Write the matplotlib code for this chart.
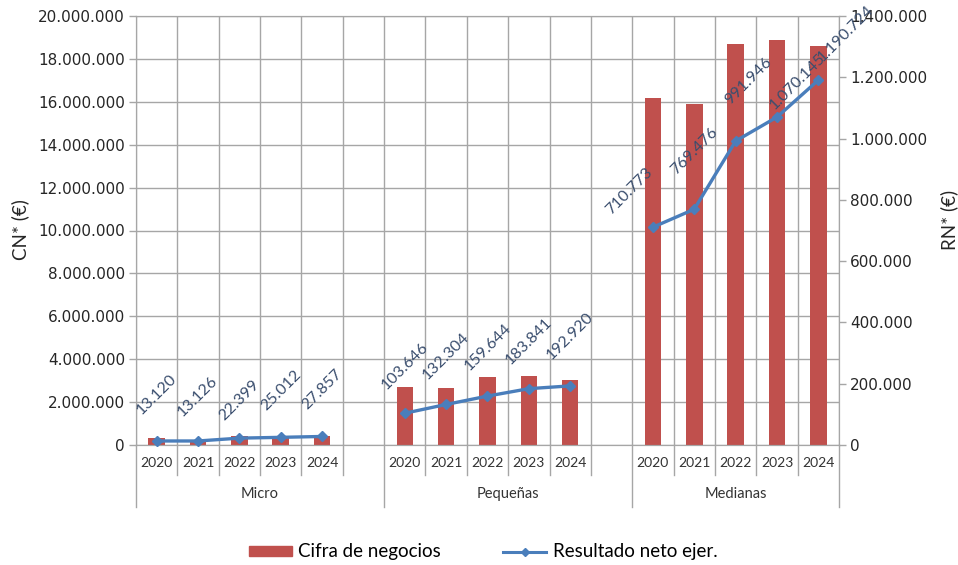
import matplotlib
matplotlib.use('Agg')
import matplotlib.pyplot as plt
import matplotlib.transforms as mtransforms
from matplotlib.ticker import FuncFormatter, MultipleLocator
from matplotlib.lines import Line2D
from matplotlib.patches import Patch

# data
groups = ['Micro', 'Pequeñas', 'Medianas']
years = ['2020', '2021', '2022', '2023', '2024']
cifra = [
    [340000, 235000, 405000, 405000, 420000],        # Micro
    [2720000, 2640000, 3160000, 3200000, 3030000],   # Pequeñas
    [16190000, 15880000, 18680000, 18870000, 18620000],  # Medianas
]
resultado = [
    [13120, 13126, 22399, 25012, 27857],
    [103646, 132304, 159644, 183841, 192920],
    [710773, 769476, 991946, 1070145, 1190724],
]

bar_color = '#C0504D'
line_color = '#4A7EBB'
label_color = '#3A4E6E'
grid_color = '#A6A6A6'
text_color = '#262626'

def fmt(v, pos=None):
    return '{:,}'.format(int(round(v))).replace(',', '.')

# slot positions: 5 years + blank per group (last group without blank)
slots = []
for g in range(len(groups)):
    slots.append([g * 6 + i for i in range(len(years))])
nslots = 17

fig = plt.figure(figsize=(9.58, 5.65), dpi=100)
ax = fig.add_axes([136 / 958, 1 - 445 / 565, 703 / 958, 429 / 565])
ax2 = ax.twinx()

for g in range(len(groups)):
    ax.bar(slots[g], cifra[g], width=0.4, color=bar_color, zorder=2)

ax.set_xlim(-0.5, nslots - 0.5)
ax.set_ylim(0, 20000000)
ax.yaxis.set_major_locator(MultipleLocator(2000000))
ax.yaxis.set_major_formatter(FuncFormatter(fmt))
ax.set_xticks([k - 0.5 for k in range(nslots + 1)])
ax.set_xticklabels([])
ax.tick_params(axis='x', length=0)
ax.set_axisbelow(True)
ax.grid(True, axis='both', color=grid_color, linewidth=1.0)
ax.tick_params(axis='y', length=5, width=1, color=grid_color, pad=3,
               labelsize=11, labelcolor=text_color)
for lbl in ax.get_yticklabels():
    lbl.set_fontfamily('DejaVu Sans')
for s in ax.spines.values():
    s.set_color(grid_color)

# line on secondary axis
offsets = [
    [(0, 24), (0, 22), (0, 15), (0, 24), (0, 24)],
    [(0, 21), (0, 22), (0, 23), (0, 22), (0, 24)],
    [(-24, 10), (0, 32), (13, 34), (21, 5), (27, 16)],
]
for g in range(len(groups)):
    ax2.plot(slots[g], resultado[g], color=line_color, linewidth=2.4,
             marker='D', markersize=5, zorder=3, clip_on=False)
    for x, v, (dx, dy) in zip(slots[g], resultado[g], offsets[g]):
        ax2.annotate(fmt(v), (x, v), xytext=(dx * 0.72, dy * 0.72),
                     textcoords='offset points', rotation=45,
                     ha='center', va='bottom', fontsize=11.5,
                     family='Lato', color=label_color, annotation_clip=False)

ax2.set_ylim(0, 1400000)
ax2.yaxis.set_major_locator(MultipleLocator(200000))
ax2.yaxis.set_major_formatter(FuncFormatter(fmt))
ax2.tick_params(axis='y', length=5, width=1, color=grid_color, pad=3,
                labelsize=11, labelcolor=text_color)
for lbl in ax2.get_yticklabels():
    lbl.set_fontfamily('DejaVu Sans')
for s in ax2.spines.values():
    s.set_color(grid_color)

fig.text(20 / 958, 1 - 230 / 565, 'CN* (€)', rotation=90, ha='center', va='center',
         fontsize=13.5, family='Lato', color=text_color)
fig.text(949 / 958, 1 - 220 / 565, 'RN* (€)', rotation=90, ha='center', va='center',
         fontsize=13.5, family='Lato', color=text_color)

# multi-level category axis
trans = mtransforms.blended_transform_factory(ax.transData, fig.transFigure)
y_axis = 1 - 445 / 565
y_year_end = 1 - 475 / 565
y_group_end = 1 - 507 / 565
y_year_txt = 1 - 463 / 565
y_group_txt = 1 - 494 / 565
group_edges = [-0.5, 5.5, 11.5, 16.5]
for k in range(nslots + 1):
    xb = k - 0.5
    yend = y_group_end if xb in group_edges else y_year_end
    fig.add_artist(Line2D([xb, xb], [y_axis, yend], transform=trans,
                          color=grid_color, linewidth=1.0))
for g in range(len(groups)):
    for x, yr in zip(slots[g], years):
        fig.text(x, y_year_txt, yr, transform=trans, ha='center', va='center',
                 fontsize=10, family='Lato', color='#333333')
    mid = (group_edges[g] + group_edges[g + 1]) / 2
    fig.text(mid, y_group_txt, groups[g], transform=trans, ha='center',
             va='center', fontsize=10.5, family='Lato', color='#333333')

handles = [Patch(color=bar_color),
           Line2D([], [], color=line_color, linewidth=2.2, marker='D', markersize=4)]
fig.legend(handles, ['Cifra de negocios', 'Resultado neto ejer.'],
           loc='center', bbox_to_anchor=(483 / 958, 1 - 552 / 565), ncol=2,
           frameon=False, handlelength=2.3, handleheight=0.5, handletextpad=0.35,
           columnspacing=3.3, prop={'family': 'Lato', 'size': 13.5})

fig.savefig('out.png', dpi=100)
